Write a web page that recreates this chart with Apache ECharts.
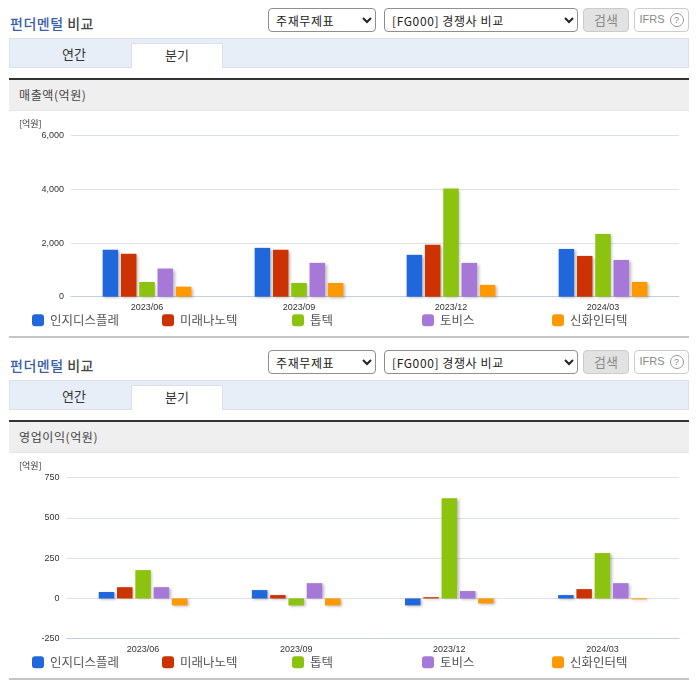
<!DOCTYPE html>
<html>
<head>
<meta charset="utf-8">
<style>
  html, body { margin: 0; padding: 0; background: #fff; }
  body { width: 696px; height: 684px; position: relative; overflow: hidden; font-family: "Noto Sans CJK KR", sans-serif; }
  .section { position: absolute; left: 0; width: 696px; height: 342px; }
  .section > * { position: absolute; box-sizing: border-box; }
  .title { left: 10px; top: 13px; font-size: 14px; line-height: 20px; font-weight: 500; color: #444; letter-spacing: 0.5px; }
  .title b { color: #3a5fa8; font-weight: 500; }
  select { top: 8px; height: 24px; font-family: "Noto Sans CJK KR", sans-serif; font-size: 12px; letter-spacing: 0.6px; color: #222; background: #fff; border: 1px solid #8f8f8f; border-radius: 4px; padding: 0 0 0 3px; }
  .sel1 { left: 268px; width: 108px; }
  .sel2 { left: 384px; width: 194px; }
  .btn { top: 8px; height: 24px; border-radius: 4px; font-size: 13px; line-height: 21px; text-align: center; }
  .search { left: 583px; width: 46px; background: #e2e2e2; border: 1px solid #ccc; color: #8a8a8a; }
  .ifrs { left: 634px; width: 55px; background: #fff; border: 1px solid #ccc; color: #888; font-family: "Liberation Sans", sans-serif; font-size: 11px; white-space: nowrap; }
  .ifrs i { display: inline-block; width: 12px; height: 12px; border: 1px solid #999; border-radius: 50%; font-style: normal; font-size: 9px; line-height: 12px; margin-left: 2px; }
  .tabs { left: 9px; top: 38px; width: 680px; height: 30px; background: #e8eef8; border: 1px solid #d8e0ea; }
  .tab { top: 43px; height: 25px; font-size: 13px; line-height: 22px; text-align: center; color: #333; }
  .tab.y { left: 9px; width: 130px; }
  .tab.q { left: 131px; width: 92px; background: #fff; border: 1px solid #d8e0ea; border-bottom: 0; }
  .head { left: 9px; top: 78px; width: 680px; height: 33px; background: #efefef; border-top: 2px solid #333; border-bottom: 1px solid #e4e4e4; font-size: 12px; line-height: 30px; padding-left: 10px; color: #444; letter-spacing: 0.6px; }
  .foot { left: 9px; top: 336px; width: 680px; height: 2px; background: #c4c4c4; }
  .chart { left: 0; top: 111px; width: 696px; height: 225px; }
</style>
</head>
<body>
<script src="https://cdn.jsdelivr.net/npm/echarts@6/dist/echarts.min.js"></script>
<script>
const categories = ['2023/06', '2023/09', '2023/12', '2024/03'];
const companies = ['인지디스플레', '미래나노텍', '톱텍', '토비스', '신화인터텍'];
const colors = ['#2167dc', '#cc3300', '#8cc30f', '#a678d8', '#ff9900'];

// 매출액(억원)
const salesInzi = [1750, 1820, 1560, 1780];
const salesMirae = [1600, 1750, 1935, 1520];
const salesToptec = [550, 510, 4030, 2340];
const salesTovis = [1050, 1260, 1260, 1370];
const salesShinwha = [375, 510, 440, 550];
const salesTicks = { min: 0, max: 6000, interval: 2000 };

// 영업이익(억원)
const profitInzi = [40, 52, -43, 21];
const profitMirae = [70, 21, 8, 58];
const profitToptec = [176, -43, 623, 282];
const profitTovis = [70, 95, 46, 95];
const profitShinwha = [-43, -43, -31, -6];
const profitTicks = { min: -250, max: 750, interval: 250 };

function addSection(top, label, seriesData, ticks, gridLeft) {
  const sec = document.createElement('div');
  sec.className = 'section';
  sec.style.top = top + 'px';
  sec.innerHTML =
    '<div class="title"><b>펀더멘털</b> 비교</div>' +
    '<select class="sel1"><option>주재무제표</option></select>' +
    '<select class="sel2"><option>[FG000] 경쟁사 비교</option></select>' +
    '<div class="btn search">검색</div>' +
    '<div class="btn ifrs">IFRS <i>?</i></div>' +
    '<div class="tabs"></div>' +
    '<div class="tab y">연간</div>' +
    '<div class="tab q">분기</div>' +
    '<div class="head">' + label + '</div>' +
    '<div class="foot"></div>' +
    '<div class="chart"></div>';
  document.body.appendChild(sec);

  const chart = echarts.init(sec.querySelector('.chart'), null, { renderer: 'canvas' });
  chart.setOption({
    animation: false,
    color: colors,
    textStyle: { fontFamily: '"Liberation Sans", sans-serif' },
    grid: { left: gridLeft, right: 17, top: 24.7, height: 161 },
    // one legend per company, they sit on a fixed 130px pitch
    legend: companies.map((name, i) => ({
      data: [name],
      left: 32 + i * 130, top: 203, padding: 0,
      itemWidth: 12, itemHeight: 12,
      icon: 'roundRect',
      selectedMode: false,
      textStyle: { fontSize: 12.5, color: '#555', padding: [0, 0, 0, 1], fontFamily: '"Noto Sans CJK KR", sans-serif' }
    })),
    xAxis: {
      type: 'category',
      data: categories,
      axisLine: { onZero: false, lineStyle: { color: '#c0d0e0' } },
      axisTick: { length: 5, lineStyle: { color: '#c0d0e0' } },
      axisLabel: { fontSize: 9, color: '#333', margin: 6 }
    },
    yAxis: {
      type: 'value',
      min: ticks.min, max: ticks.max, interval: ticks.interval,
      name: '[억원]',
      nameLocation: 'end',
      nameGap: 8,
      nameTextStyle: { fontSize: 9, color: '#333', align: 'left', padding: [0, 0, 0, 19 - gridLeft], fontFamily: '"Noto Sans CJK KR", sans-serif' },
      axisLine: { show: false },
      axisTick: { show: false },
      axisLabel: { fontSize: 9, color: '#333', margin: 7, padding: [3, 0, 0, 0], formatter: v => v.toLocaleString('en-US') },
      splitLine: { lineStyle: { color: '#dcdfe4' } }
    },
    series: companies.map((name, i) => ({
      name,
      type: 'bar',
      data: seriesData[i],
      barWidth: 15.5,
      barGap: '18%',
      itemStyle: { shadowColor: 'rgba(0,0,0,0.28)', shadowOffsetX: 1.5, shadowOffsetY: 1, shadowBlur: 3 }
    }))
  });
}

addSection(0, '매출액(억원)', [salesInzi, salesMirae, salesToptec, salesTovis, salesShinwha], salesTicks, 71);
addSection(342, '영업이익(억원)', [profitInzi, profitMirae, profitToptec, profitTovis, profitShinwha], profitTicks, 66.5);
</script>
</body>
</html>
